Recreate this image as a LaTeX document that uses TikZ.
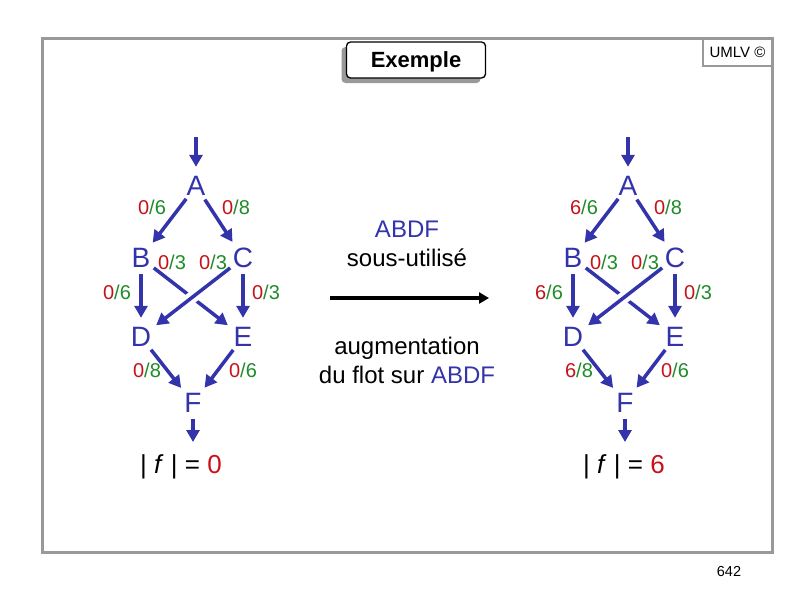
\documentclass[tikz,border=0pt]{standalone}
\usepackage{fontspec}
\setmainfont{Liberation Sans}
\usetikzlibrary{arrows.meta,shadows}
\definecolor{bleu}{RGB}{51,51,170}
\definecolor{rouge}{RGB}{200,16,24}
\definecolor{vert}{RGB}{30,140,40}
\definecolor{cadre}{RGB}{153,153,153}
\newcommand{\flot}[2]{{\color{rouge}#1}{\color{vert}/#2}}

\begin{document}
\begin{tikzpicture}[x=1pt,y=-1pt,
  sommet/.style={circle,inner sep=0pt,minimum size=32pt,text=bleu,font=\fontsize{28}{30}\selectfont},
  fleche/.style={-{Triangle[length=12pt,width=13pt]},line width=3.5pt,draw=bleu,shorten >=3pt},
  etiq/.style={font=\fontsize{20}{22}\selectfont},
  texte/.style={font=\fontsize{24}{29}\selectfont,align=center}
]
  \useasboundingbox (0,0) rectangle (809,600);
  \draw[cadre,line width=3pt] (42,38) rectangle (772,552);
  \node[draw=cadre,line width=1.5pt,minimum width=69pt,minimum height=28pt,inner sep=0pt,
        font=\fontsize{15}{17}\selectfont] (umlv) at (737.5,52) {UMLV ©};
  \node[draw=black,line width=1.3pt,rounded corners=4pt,fill=white,minimum width=139pt,
        minimum height=36pt,text depth=0pt,font=\fontsize{22}{24}\selectfont\bfseries,
        drop shadow={shadow xshift=-5pt,shadow yshift=-5pt,fill=cadre,opacity=1}] (exemple) at (416,60) {Exemple};

  % les deux reseaux
  \foreach \p/\dx/\f/\vx in {g/0/0/181,d/432/6/192}{
  \begin{scope}[xshift=\dx pt]
    \node[sommet] (\p A) at (196,186) {A};
    \node[sommet] (\p B) at (141,258) {B};
    \node[sommet] (\p C) at (243,258) {C};
    \node[sommet] (\p D) at (141,337) {D};
    \node[sommet] (\p E) at (243,337) {E};
    \node[sommet] (\p F) at (193,403) {F};
    \coordinate (\p in) at (196,137);
    \coordinate (\p out) at (193,445);
    \draw[fleche] (\p in) -- (\p A);
    \draw[fleche] (\p A) -- (\p B);
    \draw[fleche] (\p A) -- (\p C);
    \draw[fleche] (\p B) -- (\p D);
    \draw[fleche] (\p C) -- (\p E);
    \draw[fleche] (\p B) -- (\p E);
    \draw[white,line width=12pt,shorten <=40pt,shorten >=40pt] (\p C) -- (\p D);
    \draw[fleche] (\p C) -- (\p D);
    \draw[fleche] (\p D) -- (\p F);
    \draw[fleche] (\p E) -- (\p F);
    \draw[fleche] (\p F) -- (\p out);
    \node[etiq] (\p ab) at (152,207) {\flot{\f}{6}};
    \node[etiq] (\p ac) at (236,207) {\flot{0}{8}};
    \node[etiq] (\p be) at (172,262) {\flot{0}{3}};
    \node[etiq] (\p cd) at (213,262) {\flot{0}{3}};
    \node[etiq] (\p bd) at (117,292) {\flot{\f}{6}};
    \node[etiq] (\p ce) at (266,292) {\flot{0}{3}};
    \node[etiq] (\p df) at (147,370) {\flot{\f}{8}};
    \node[etiq] (\p ef) at (243,370) {\flot{0}{6}};
    \node[font=\fontsize{26}{28}\selectfont] (\p val) at (\vx,467)
      {\textbar\ \textit{f}\ \textbar\ = {\color{rouge}\f}};
  \end{scope}}

  % passage
  \node[texte] (avant) at (407,244) {{\color{bleu}ABDF}\\sous-utilisé};
  \coordinate (mdeb) at (330,298);
  \coordinate (mfin) at (489,298);
  \draw[-{Triangle[length=10pt,width=11pt]},line width=3.5pt] (mdeb) -- (mfin);
  \node[texte] (apres) at (407,360) {augmentation\\du flot sur {\color{bleu}ABDF}};
  \node[font=\fontsize{14.5}{16}\selectfont] (page) at (729,572) {642};
\end{tikzpicture}
\end{document}
